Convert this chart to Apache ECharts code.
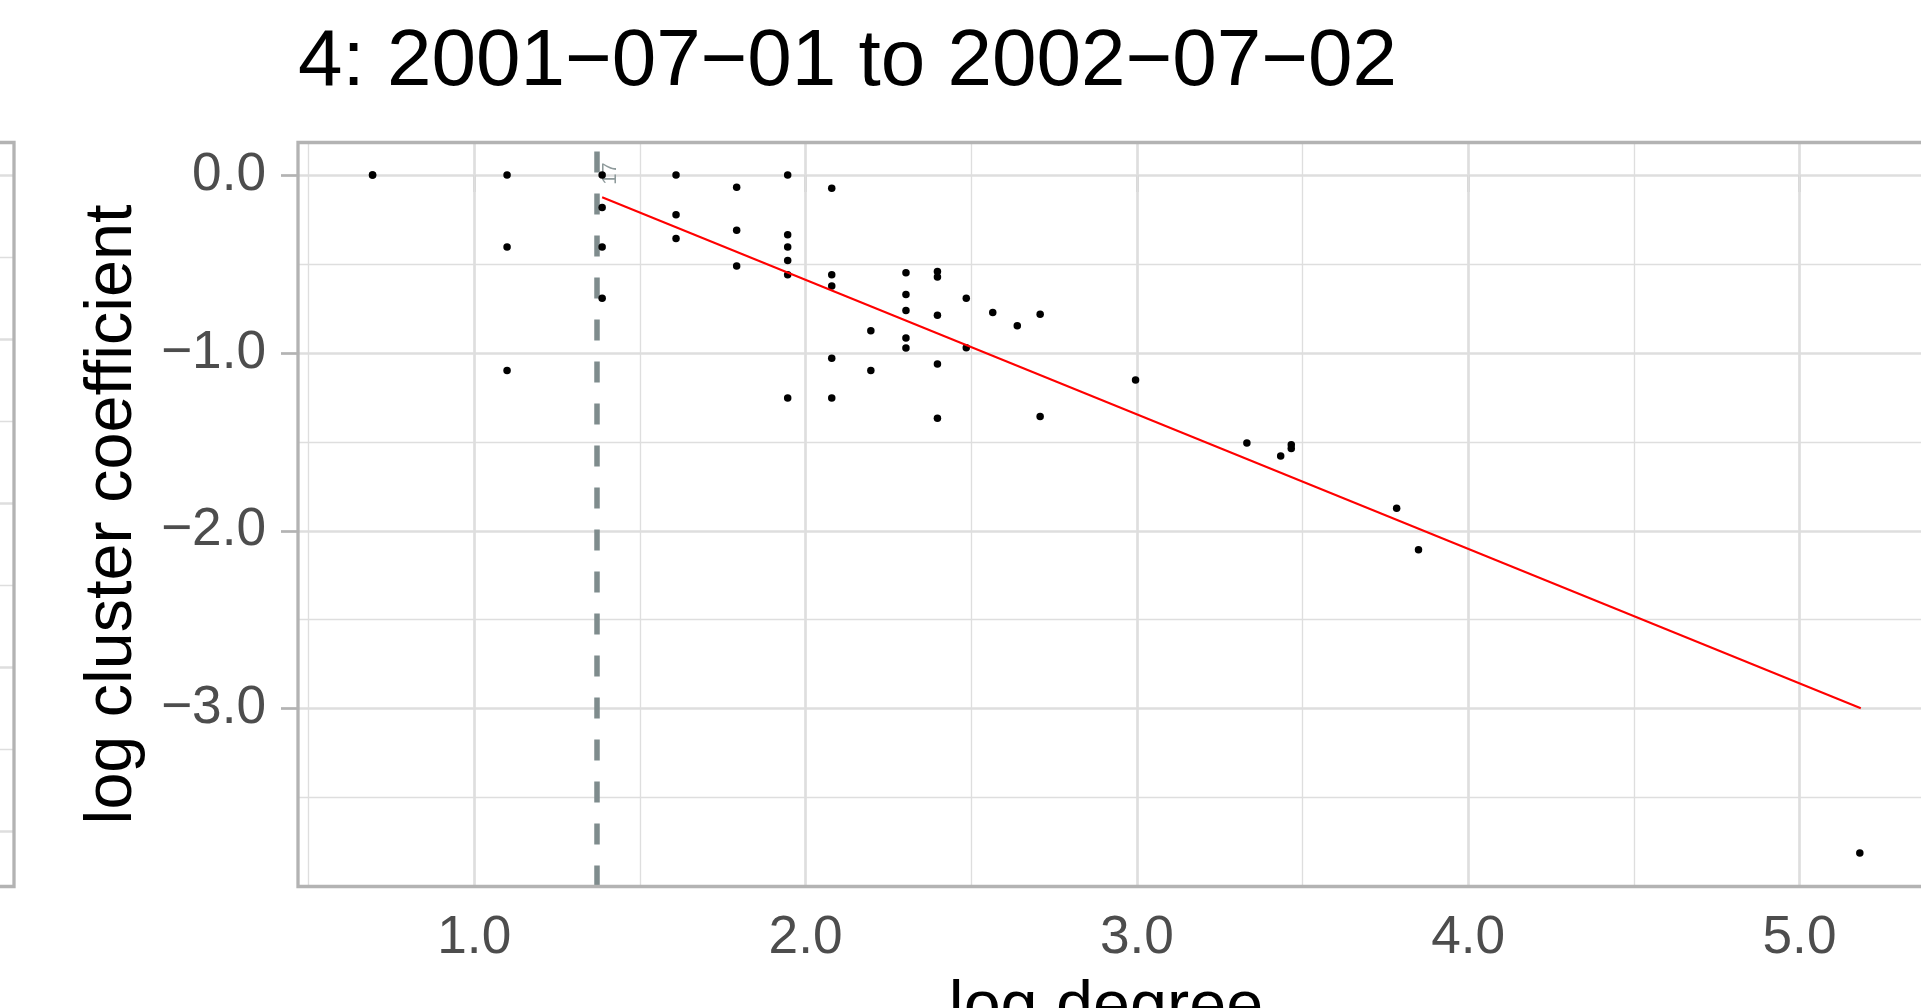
<!DOCTYPE html>
<html><head><meta charset="utf-8">
<script src="https://cdn.jsdelivr.net/npm/echarts@6/dist/echarts.min.js"></script>
<style>html,body{margin:0;padding:0;background:#fff;overflow:hidden}#chart{width:1921px;height:1008px}</style>
</head><body><div id="chart"></div>
<script>
const titleText = '4: 2001\u221207\u221201 to 2002\u221207\u221202';
const xAxisTitle = 'log degree';
const yAxisTitle = 'log cluster coefficient';

// log degree of each node
const logDegree = [
  0.693, 0.693,
  1.099, 1.099, 1.099,
  1.386, 1.386, 1.386, 1.386,
  1.609, 1.609, 1.609,
  1.792, 1.792, 1.792,
  1.946, 1.946, 1.946, 1.946, 1.946, 1.946,
  2.079, 2.079, 2.079, 2.079, 2.079,
  2.197, 2.197,
  2.303, 2.303, 2.303, 2.303, 2.303,
  2.398, 2.398, 2.398, 2.398, 2.398,
  2.485, 2.485,
  2.565,
  2.639,
  2.708, 2.708,
  2.996,
  3.332,
  3.434,
  3.466, 3.466,
  3.784,
  3.850,
  5.182
];
// log cluster coefficient of each node
const logCluster = [
  0, 0,
  0, -0.405, -1.099,
  0, -0.182, -0.405, -0.693,
  0, -0.223, -0.357,
  -0.069, -0.310, -0.511,
  0, -0.336, -0.405, -0.480, -0.560, -1.253,
  -0.074, -0.560, -0.624, -1.030, -1.253,
  -0.875, -1.099,
  -0.549, -0.671, -0.762, -0.916, -0.973,
  -0.542, -0.573, -0.788, -1.063, -1.368,
  -0.693, -0.971,
  -0.773,
  -0.847,
  -0.783, -1.358,
  -1.153,
  -1.507,
  -1.580,
  -1.537, -1.517,
  -1.873,
  -2.107,
  -3.811
];
// fitted power-law line (log-log)
const fitX = [1.386, 5.185];
const fitY = [-0.125, -2.998];
// xmin cut-off marker
const xminLine = 1.367;
const xminLabel = '17';

const xTicks = [1, 2, 3, 4, 5];
const xMinorGrid = [0.5, 1.5, 2.5, 3.5, 4.5];
const yTicks = [-3, -2, -1, 0];
// neighbouring facet (only its right edge is visible)
const leftMajor = [0, -1, -2, -3, -4];
const leftMinor = [-0.5, -1.5, -2.5, -3.5];

const FONT = "'Liberation Sans', Arial, Helvetica, sans-serif";
const GRID = '#DEDEDE';
const BORDER = '#B3B3B3';

const chart = echarts.init(document.getElementById('chart'));
const hline = (v, w) => ({ yAxis: v, lineStyle: { color: GRID, width: w, type: 'solid' } });
const vline = (v, w) => ({ xAxis: v, lineStyle: { color: GRID, width: w, type: 'solid' } });

chart.setOption({
  animation: false,
  backgroundColor: '#ffffff',
  title: {
    text: titleText, left: 298, top: 22.6, padding: 0,
    textStyle: { fontSize: 80, fontWeight: 'normal', color: '#000', fontFamily: FONT }
  },
  grid: [
    { left: 298, top: 142.5, width: 1640, height: 744, show: true, z: 10,
      outerBoundsMode: 'none', containLabel: false,
      borderColor: BORDER, borderWidth: 3.3, backgroundColor: 'transparent' },
    { left: -200, top: 142.5, width: 214, height: 744, show: true, z: 10,
      outerBoundsMode: 'none', containLabel: false,
      borderColor: BORDER, borderWidth: 3.3, backgroundColor: 'transparent' }
  ],
  xAxis: [
    { gridIndex: 0, type: 'value', min: 0.468, max: 5.418,
      axisLine: { show: false }, splitLine: { show: false },
      axisTick: { show: true, customValues: xTicks, length: 17, lineStyle: { color: BORDER, width: 2.7 } },
      axisLabel: { customValues: xTicks, formatter: v => v.toFixed(1), fontSize: 53.2,
        color: '#4D4D4D', fontFamily: FONT, margin: 25 },
      name: xAxisTitle, nameLocation: 'middle', nameGap: 89, nameMoveOverlap: false,
      nameTextStyle: { fontSize: 66.5, color: '#000', fontFamily: FONT, padding: [0, 24, 0, 0] } },
    { gridIndex: 1, type: 'value', min: 0, max: 1, show: false }
  ],
  yAxis: [
    { gridIndex: 0, type: 'value', min: -4, max: 0.183, interval: 1,
      axisLine: { show: false },
      splitLine: { show: true, lineStyle: { color: GRID, width: 2.7 } },
      minorTick: { show: false, splitNumber: 2 },
      minorSplitLine: { show: true, lineStyle: { color: GRID, width: 1.35 } },
      axisTick: { show: true, customValues: yTicks, length: 17, lineStyle: { color: BORDER, width: 2.7 } },
      axisLabel: { customValues: yTicks, formatter: v => v.toFixed(1).replace('-', '\u2212'), fontSize: 53.2,
        color: '#4D4D4D', fontFamily: FONT, margin: 32 },
      name: yAxisTitle, nameLocation: 'middle', nameGap: 152, nameMoveOverlap: false,
      nameTextStyle: { fontSize: 66.5, color: '#000', fontFamily: FONT } },
    { gridIndex: 1, type: 'value', min: -4.337, max: 0.2, show: false }
  ],
  series: [
    { name: 'xgrid', type: 'line', xAxisIndex: 0, yAxisIndex: 0, data: [], silent: true, z: 1,
      markLine: { z: 1, silent: true, symbol: ['none', 'none'], label: { show: false }, animation: false,
        data: [...xTicks.map(v => vline(v, 2.7)), ...xMinorGrid.map(v => vline(v, 1.35))] } },
    { name: 'leftgrid', type: 'line', xAxisIndex: 1, yAxisIndex: 1, data: [], silent: true, z: 1,
      markLine: { z: 1, silent: true, symbol: ['none', 'none'], label: { show: false }, animation: false,
        data: [...leftMajor.map(v => hline(v, 2.7)), ...leftMinor.map(v => hline(v, 1.35))] } },
    { name: 'xmin', type: 'line', xAxisIndex: 0, yAxisIndex: 0, data: [], silent: true, z: 7,
      markLine: { z: 7, silent: true, symbol: ['none', 'none'], animation: false,
        label: { show: true, position: 'insideEndBottom', formatter: xminLabel, distance: [20, 4],
          fontSize: 20, color: '#8E9A9B', fontFamily: FONT },
        data: [{ xAxis: xminLine }],
        lineStyle: { color: '#7F8C8D', width: 5.5, type: [21, 21] } } },
    { name: 'nodes', type: 'scatter', xAxisIndex: 0, yAxisIndex: 0, z: 8,
      symbolSize: 7.5, itemStyle: { color: '#000000', opacity: 1 },
      data: logDegree.map((x, i) => [x, logCluster[i]]) },
    { name: 'fit', type: 'line', xAxisIndex: 0, yAxisIndex: 0, z: 9,
      showSymbol: false, symbol: 'none',
      lineStyle: { color: '#FF0000', width: 2 },
      data: fitX.map((x, i) => [x, fitY[i]]) }
  ]
});
</script>
</body></html>
